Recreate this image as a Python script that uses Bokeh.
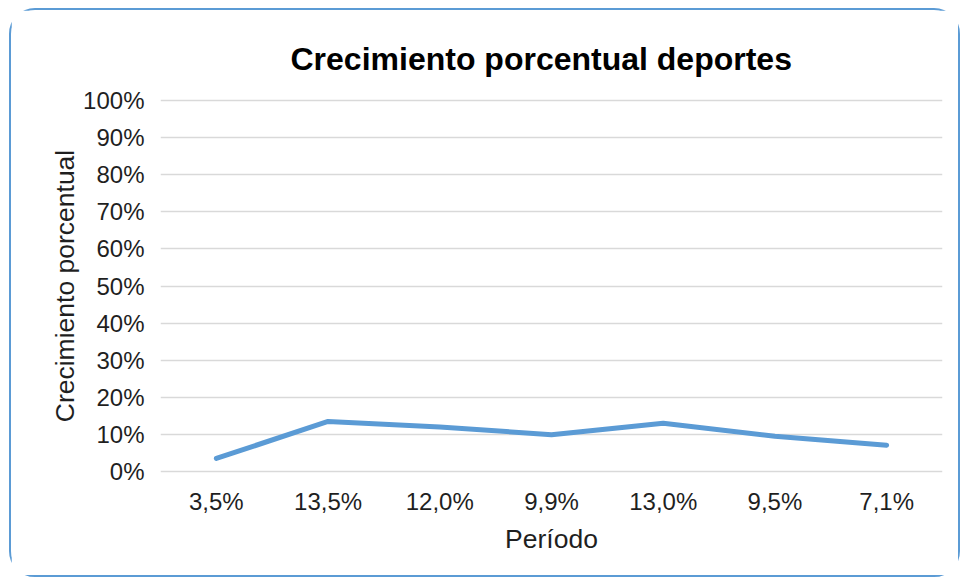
from bokeh.plotting import figure
from bokeh.models import ColumnDataSource, FactorRange, Range1d, FixedTicker, NumeralTickFormatter, Title
from bokeh.embed import file_html
from bokeh.resources import INLINE

# Sports growth per period (percent)
growth = [3.5, 13.5, 12.0, 9.9, 13.0, 9.5, 7.1]
periods = [f"{v:.1f}%".replace(".", ",") for v in growth]
y_ticks = [i / 10 for i in range(11)]

FONT = "Liberation Sans"
TEXT = "#1f1f1f"
BLUE = "#5B9BD5"

src = ColumnDataSource(dict(period=periods, share=[v / 100 for v in growth]))

p = figure(
    width=951, height=569,
    x_range=FactorRange(*periods),
    y_range=Range1d(-10 / 370, 1 + 10 / 370),
    output_backend="svg", toolbar_location=None,
    min_border_left=149, min_border_right=20,
    min_border_top=80, min_border_bottom=98,
)
p.margin = (8, 0, 0, 9)
p.styles = {"border": f"2px solid {BLUE}", "border-radius": "26px"}
p.outline_line_color = None

p.title = Title(text="Crecimiento porcentual deportes", align="left", offset=130, standoff=27)
p.title.text_font = FONT
p.title.text_font_size = "32px"
p.title.text_font_style = "bold"
p.title.text_color = "#000000"

p.line("period", "share", source=src, line_color=BLUE, line_width=5, line_cap="round", line_join="round")

p.xgrid.grid_line_color = None
p.ygrid.grid_line_color = "#D9D9D9"
p.ygrid.grid_line_width = 1.5
p.yaxis.ticker = FixedTicker(ticks=y_ticks)
p.yaxis.formatter = NumeralTickFormatter(format="0%")

for ax in (p.xaxis[0], p.yaxis[0]):
    ax.axis_line_color = None
    ax.major_tick_line_color = None
    ax.minor_tick_line_color = None
    ax.major_label_text_font = FONT
    ax.major_label_text_font_size = "24px"
    ax.major_label_text_color = TEXT
    ax.axis_label_text_font = FONT
    ax.axis_label_text_font_size = "26.5px"
    ax.axis_label_text_font_style = "normal"
    ax.axis_label_text_color = TEXT

p.yaxis.axis_label = "Crecimiento porcentual"
p.yaxis.major_label_standoff = 10
p.yaxis.axis_label_standoff = 0
p.xaxis.axis_label = "Período"
p.xaxis.major_label_standoff = 0
p.xaxis.axis_label_standoff = 6

open("out.html", "w").write(file_html(p, INLINE))
